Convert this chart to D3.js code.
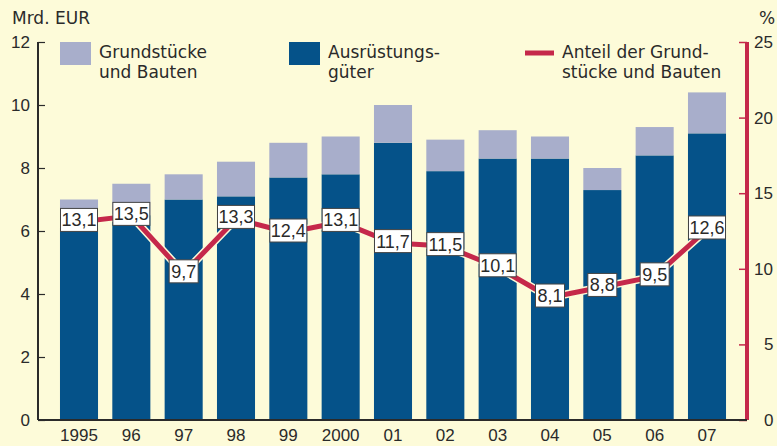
<!DOCTYPE html>
<html>
<head>
<meta charset="utf-8">
<script src="https://cdn.jsdelivr.net/npm/d3@7"></script>
<style>
  body { margin: 0; background: #fdfbd9; }
  svg { display: block; font-family: "Liberation Sans", Arial, sans-serif; }
  .words { font-family: "DejaVu Sans", "Liberation Sans", sans-serif; }
</style>
</head>
<body>
<div id="chart"></div>
<script>
// Data
const years = ["1995", "96", "97", "98", "99", "2000", "01", "02", "03", "04", "05", "06", "07"];
const equipment = [6.1, 6.5, 7.0, 7.1, 7.7, 7.8, 8.8, 7.9, 8.3, 8.3, 7.3, 8.4, 9.1];   // Ausrüstungsgüter
const buildings = [0.9, 1.0, 0.8, 1.1, 1.1, 1.2, 1.2, 1.0, 0.9, 0.7, 0.7, 0.9, 1.3];   // Grundstücke und Bauten
const share = [13.1, 13.5, 9.7, 13.3, 12.4, 13.1, 11.7, 11.5, 10.1, 8.1, 8.8, 9.5, 12.6];
const leftTicks = [0, 2, 4, 6, 8, 10, 12];
const rightTicks = [0, 5, 10, 15, 20, 25];

const W = 777, H = 446;
const colBlue = "#055289", colGray = "#a8aecb", colRed = "#c5284a", colText = "#2a2a2a";

const svg = d3.select("#chart").append("svg")
    .attr("width", W)
    .attr("height", H);

svg.append("rect").attr("width", W).attr("height", H).attr("fill", "#fdfbd9");

// Scales
const x = d3.scaleBand()
    .domain(years)
    .range([38, 748])
    .paddingInner(0.273)
    .paddingOuter(0.42);

const y = d3.scaleLinear().domain([0, 12]).range([420, 42]);
const y2 = d3.scaleLinear().domain([0, 25]).range([420, 42]);

// Bars
const bars = svg.append("g");
years.forEach((yr, i) => {
    bars.append("rect")
        .attr("x", x(yr))
        .attr("width", x.bandwidth())
        .attr("y", y(equipment[i]))
        .attr("height", y(0) - y(equipment[i]))
        .attr("fill", colBlue);
    bars.append("rect")
        .attr("x", x(yr))
        .attr("width", x.bandwidth())
        .attr("y", y(equipment[i] + buildings[i]))
        .attr("height", y(equipment[i]) - y(equipment[i] + buildings[i]))
        .attr("fill", colGray);
});

// Left axis
const leftAxis = svg.append("g")
    .attr("transform", "translate(38,0)")
    .call(d3.axisRight(y).tickValues(leftTicks).tickSize(7).tickFormat(""));
leftAxis.select(".domain").attr("stroke", colText).attr("stroke-width", 2).attr("d", "M0,42V420");
leftAxis.selectAll(".tick line").attr("stroke", colText).attr("stroke-width", 1.2);
svg.append("g").selectAll("text")
    .data(leftTicks)
    .enter().append("text")
    .attr("x", 30)
    .attr("y", d => y(d) + 6)
    .attr("text-anchor", "end")
    .attr("font-size", 17)
    .attr("fill", colText)
    .text(d => d);

// Right axis
const rightAxis = svg.append("g")
    .attr("transform", "translate(747,0)")
    .call(d3.axisLeft(y2).tickValues(rightTicks).tickSize(8).tickFormat(""));
rightAxis.select(".domain").attr("stroke", colRed).attr("stroke-width", 4).attr("d", "M0,42V420");
rightAxis.selectAll(".tick line").attr("stroke", colRed).attr("stroke-width", 1.5);
svg.append("g").selectAll("text")
    .data(rightTicks)
    .enter().append("text")
    .attr("x", d => d >= 10 ? 754 : 764)
    .attr("y", d => y2(d) + 6)
    .attr("font-size", 17)
    .attr("fill", colText)
    .text(d => d);

// Baseline
svg.append("line")
    .attr("x1", 38).attr("x2", 747)
    .attr("y1", 420).attr("y2", 420)
    .attr("stroke", colText).attr("stroke-width", 2);

// Axis titles
svg.append("text").attr("class", "words").attr("x", 12).attr("y", 24).attr("font-size", 17).attr("fill", colText).text("Mrd. EUR");
svg.append("text").attr("class", "words").attr("x", 759).attr("y", 24).attr("font-size", 17).attr("fill", colText).text("%");

// X labels
svg.append("g").selectAll("text")
    .data(years)
    .enter().append("text")
    .attr("x", d => x(d) + x.bandwidth() / 2)
    .attr("y", 441)
    .attr("text-anchor", "middle")
    .attr("font-size", 17)
    .attr("fill", colText)
    .text(d => d);

// Share line
const line = d3.line()
    .x((d, i) => x(years[i]) + x.bandwidth() / 2)
    .y(d => y2(d));

svg.append("path")
    .datum(share)
    .attr("fill", "none")
    .attr("stroke", "#fdfbd9")
    .attr("stroke-width", 8)
    .attr("stroke-linejoin", "round")
    .attr("d", line);
svg.append("path")
    .datum(share)
    .attr("fill", "none")
    .attr("stroke", colRed)
    .attr("stroke-width", 5)
    .attr("stroke-linejoin", "round")
    .attr("d", line);

// Value labels
const labels = svg.append("g");
share.forEach((v, i) => {
    const cx = x(years[i]) + x.bandwidth() / 2;
    const cy = y2(v) - 2;
    const txt = String(v).replace(".", ",");
    const w = txt.length > 3 ? 37 : 29;
    labels.append("rect")
        .attr("x", cx - w / 2)
        .attr("y", cy - 11.5)
        .attr("width", w)
        .attr("height", 23)
        .attr("fill", "#fff")
        .attr("stroke", "#444")
        .attr("stroke-width", 1);
    labels.append("text")
        .attr("x", cx)
        .attr("y", cy + 6.5)
        .attr("text-anchor", "middle")
        .attr("font-size", 18)
        .attr("fill", colText)
        .text(txt);
});

// Legend
const legend = svg.append("g");
legend.append("rect").attr("x", 60).attr("y", 42).attr("width", 31).attr("height", 23).attr("fill", colGray);
legend.append("rect").attr("x", 289).attr("y", 42).attr("width", 31).attr("height", 23).attr("fill", colBlue);
legend.append("line").attr("x1", 525).attr("x2", 554).attr("y1", 53).attr("y2", 53)
    .attr("stroke", colRed).attr("stroke-width", 5);

const legendText = [
    { x: 99, lines: ["Grundstücke", "und Bauten"] },
    { x: 328, lines: ["Ausrüstungs-", "güter"] },
    { x: 562, lines: ["Anteil der Grund-", "stücke und Bauten"] }
];
legendText.forEach(item => {
    const t = legend.append("text")
        .attr("class", "words")
        .attr("x", item.x)
        .attr("y", 58)
        .attr("font-size", 17)
        .attr("fill", colText);
    item.lines.forEach((s, j) => {
        t.append("tspan")
            .attr("x", item.x)
            .attr("dy", j === 0 ? 0 : 19.5)
            .text(s);
    });
});
</script>
</body>
</html>
